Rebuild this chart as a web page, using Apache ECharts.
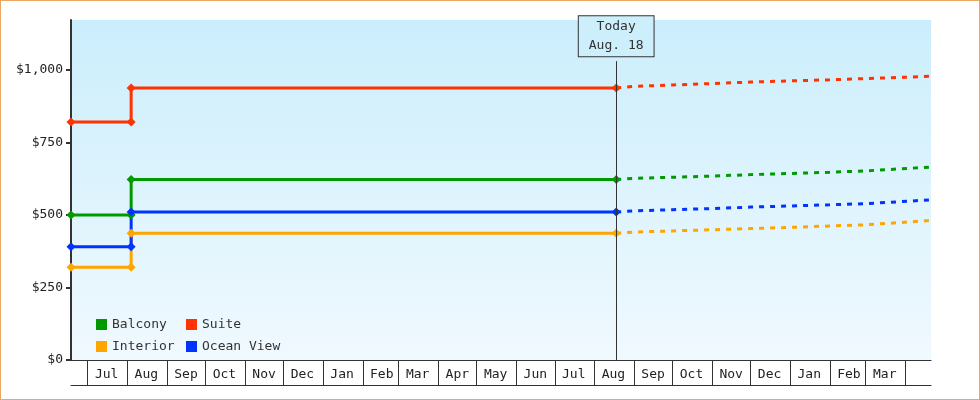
<!DOCTYPE html>
<html><head><meta charset="utf-8">
<script src="https://cdn.jsdelivr.net/npm/echarts@6/dist/echarts.min.js"></script>
<style>html,body{margin:0;padding:0;background:#fff}#c{width:980px;height:400px;box-sizing:border-box;border:1px solid #e8a860}</style>
</head><body><div id="c"></div>
<script>
const START = '2017-06-18', END = '2019-04-21', TODAY = '2018-08-18';
const monthStarts = ['2017-07-01','2017-08-01','2017-09-01','2017-10-01','2017-11-01','2017-12-01','2018-01-01','2018-02-01','2018-03-01','2018-04-01','2018-05-01','2018-06-01','2018-07-01','2018-08-01','2018-09-01','2018-10-01','2018-11-01','2018-12-01','2019-01-01','2019-02-01','2019-03-01','2019-04-01'];
const monthLabels = ['Jul','Aug','Sep','Oct','Nov','Dec','Jan','Feb','Mar','Apr','May','Jun','Jul','Aug','Sep','Oct','Nov','Dec','Jan','Feb','Mar'];
const yTicks = [0,250,500,750,1000];
const histDates = ['2017-06-18','2017-08-04','2017-08-04','2018-08-18'];
const fcDates = ['2018-08-18','2018-09-01','2018-10-01','2018-11-01','2018-12-01','2019-01-01','2019-02-01','2019-03-01','2019-04-21'];
const suiteHist = [820,820,938,938];
const balconyHist = [500,500,622,622];
const oceanHist = [390,390,510,510];
const interiorHist = [320,320,437,437];
const suiteFc = [938,943,948,953,958,962,966,970,978];
const balconyFc = [622,626,630,634,639,643,647,652,665];
const oceanFc = [510,514,518,522,527,531,535,539,552];
const interiorFc = [437,441,445,449,453,457,462,466,481];

const day = s => (Date.parse(s) - Date.parse(START)) / 86400000;
const pts = (d, v) => d.map((x, i) => [day(x), v[i]]);
const FONT = 'DejaVu Sans Mono';
const colors = {Balcony:'#009900', Suite:'#ff3300', Interior:'#ffa500', 'Ocean View':'#0033ff'};
const series = [];
[['Balcony',balconyHist,balconyFc],['Suite',suiteHist,suiteFc],['Interior',interiorHist,interiorFc],['Ocean View',oceanHist,oceanFc]].forEach(([n,h,f]) => {
  series.push({name:n,type:'line',data:pts(histDates,h),symbol:'diamond',symbolSize:9,color:colors[n],lineStyle:{width:3},z:3});
  series.push({name:n,type:'line',data:pts(fcDates,f),showSymbol:false,color:colors[n],lineStyle:{width:3,type:[5,6]},z:3});
});
series[0].markLine = {symbol:'none',silent:true,lineStyle:{color:'#333',width:1,type:'solid'},
  label:{show:true,position:'end',formatter:'Today\nAug. 18',fontFamily:FONT,fontSize:13,color:'#333',lineHeight:19,backgroundColor:'#cdeffc',borderColor:'#333',borderWidth:1,padding:[1,10,1,10]},
  data:[[{coord:[day(TODAY),0]},{coord:[day(TODAY),1030]}]]};

const ch = echarts.init(document.getElementById('c'));
const xCommon = {type:'value',min:0,max:day(END),splitLine:{show:false}};
ch.setOption({
  animation:false,
  textStyle:{fontFamily:FONT},
  grid:{left:70,right:48,top:19,bottom:39,show:true,borderWidth:0,
    backgroundColor:new echarts.graphic.LinearGradient(0,0,0,1,[{offset:0,color:'#cbeefc'},{offset:1,color:'#f0f9fe'}])},
  legend:[
    {data:['Balcony','Interior'],orient:'vertical',left:90,top:312,itemWidth:11,itemHeight:11,itemGap:9,icon:'rect',textStyle:{fontFamily:FONT,fontSize:13,color:'#333'},itemStyle:{},selectedMode:false},
    {data:['Suite','Ocean View'],orient:'vertical',left:180,top:312,itemWidth:11,itemHeight:11,itemGap:9,icon:'rect',textStyle:{fontFamily:FONT,fontSize:13,color:'#333'},selectedMode:false}
  ],
  xAxis:[
    Object.assign({}, xCommon, {position:'bottom',axisLine:{lineStyle:{color:'#333',width:1}},
      axisTick:{show:true,length:25,customValues:monthStarts.map(day),lineStyle:{color:'#333'}},
      axisLabel:{customValues:monthStarts.slice(0,-1).map(day),align:'left',margin:8,
        formatter:(v)=>{const i=monthStarts.map(day).indexOf(v);return '{a|'+monthLabels[i]+'}';},
        rich:{a:{width:38,align:'center',fontFamily:FONT,fontSize:13,color:'#222'}}}}),
    Object.assign({}, xCommon, {position:'bottom',offset:25,axisLine:{lineStyle:{color:'#333'}},axisTick:{show:false},axisLabel:{show:false}})
  ],
  yAxis:{type:'value',min:0,max:1172,splitLine:{show:false},
    axisLine:{show:true,lineStyle:{color:'#333',width:2}},
    axisTick:{show:true,length:5,customValues:yTicks,lineStyle:{color:'#333',width:2}},
    axisLabel:{customValues:yTicks,fontFamily:FONT,fontSize:13,color:'#222',margin:8,
      formatter:v=>'$'+v.toLocaleString('en-US')}},
  series
});
</script></body></html>
